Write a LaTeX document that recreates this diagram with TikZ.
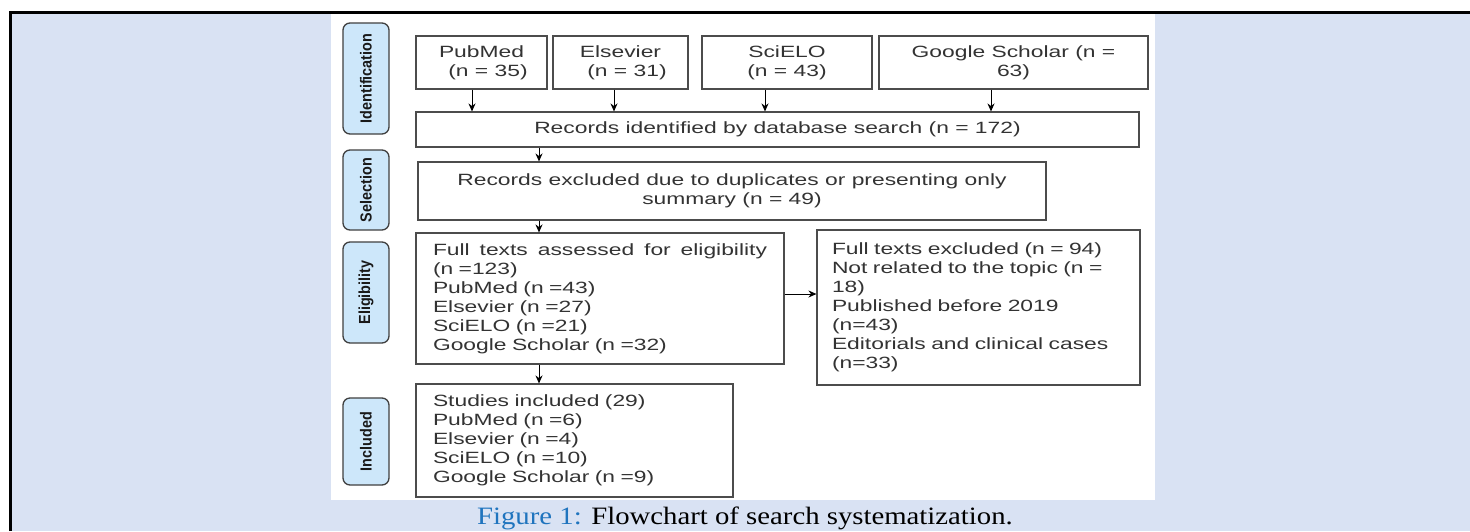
\documentclass[tikz,border=0pt]{standalone}
\usepackage{fontspec}
\setmainfont{Liberation Sans}[FakeStretch=1.4]
\newfontfamily\sidefont{Liberation Sans}[FakeStretch=0.9]
\newfontfamily\capfont{Liberation Serif}[FakeStretch=1.15]
\usetikzlibrary{arrows.meta}

\definecolor{pagebg}{HTML}{D9E2F3}
\definecolor{tabfill}{HTML}{CDE7FA}
\definecolor{capblue}{HTML}{1F74BE}

\newcommand{\boxfont}{\fontsize{16.3}{19}\selectfont\color{black!80}}
\newcommand{\tabfont}{\sidefont\bfseries\fontsize{16}{18}\selectfont\color{black!90}}

\tikzset{
  box/.style={draw=black!70, line width=1.1pt, fill=white, inner ysep=0pt,
    font=\boxfont, align=center},
  listbox/.style={box, align=left},
  tab/.style={draw=black!75, line width=1.3pt, fill=tabfill, rounded corners=7pt,
    rotate=90, minimum height=46pt, inner sep=0pt, font=\tabfont},
}

\begin{document}
\begin{tikzpicture}[x=1pt, y=-1pt, >={Stealth[length=8pt,width=7pt]}]
\useasboundingbox (0,0) rectangle (1470,531);
% page
\fill[pagebg] (11.5,13.5) rectangle (1470,531);
\fill[white] (331,14) rectangle (1155,500);
\draw[line width=3pt] (10,531) -- (10,12) -- (1470,12);

% phase tabs
\node (ident) at (366,78.5) [tab, minimum width=111pt] {Identification};
\node (sel) at (366,190) [tab, minimum width=80pt] {Selection};
\node (elig) at (366,292.5) [tab, minimum width=101pt] {Eligibility};
\node (incl) at (366,441.5) [tab, minimum width=87pt] {Included};

% sources
\node (pubmed) at (481.5,62.5) [box, minimum width=131pt, minimum height=53pt] {PubMed\\\hspace*{13pt}(n = 35)};
\node (elsevier) at (620.5,62.5) [box, minimum width=135pt, minimum height=53pt] {Elsevier\\\hspace*{13pt}(n = 31)};
\node (scielo) at (787,62.5) [box, minimum width=170pt, minimum height=53pt] {SciELO\\(n = 43)};
\node (google) at (1013.5,62.5) [box, minimum width=269pt, minimum height=53pt] {Google Scholar (n =\\63)};

% flow
\node (records) at (777.5,129.5) [box, minimum width=723pt, minimum height=35pt] {Records identified by database search (n = 172)};
\node (dupes) at (732,191) [box, minimum width=628pt, minimum height=58pt] {Records excluded due to duplicates or presenting only\\summary (n = 49)};
\node (assessed) at (600,298.5) [listbox, inner xsep=17pt, text width=334pt, minimum height=131pt]
  {\makebox[334pt][l]{Full\hfill texts\hfill assessed\hfill for\hfill eligibility}\\(n =123)\\PubMed (n =43)\\Elsevier (n =27)\\SciELO (n =21)\\Google Scholar (n =32)};
\node (ftexcl) at (978.5,307.5) [listbox, inner xsep=15pt, text width=293pt, minimum height=155pt]
  {Full texts excluded (n = 94)\\Not related to the topic (n =\\18)\\Published before 2019\\(n=43)\\Editorials and clinical cases\\(n=33)};
\node (studies) at (574.5,440.5) [listbox, inner xsep=17pt, text width=283pt, minimum height=113pt]
  {Studies included (29)\\PubMed (n =6)\\Elsevier (n =4)\\SciELO (n =10)\\Google Scholar (n =9)};

\coordinate (spine) at (539,150);

\draw[->, line width=1pt] ([xshift=-9.5pt]pubmed.south) -- ([xshift=-9.5pt]pubmed.south |- records.north);
\draw[->, line width=1pt] ([xshift=-6.5pt]elsevier.south) -- ([xshift=-6.5pt]elsevier.south |- records.north);
\draw[->, line width=1pt] ([xshift=-22pt]scielo.south) -- ([xshift=-22pt]scielo.south |- records.north);
\draw[->, line width=1pt] ([xshift=-22.5pt]google.south) -- ([xshift=-22.5pt]google.south |- records.north);
\draw[->, line width=1pt] (records.south -| spine) -- (dupes.north -| spine);
\draw[->, line width=1pt] (dupes.south -| spine) -- (assessed.north -| spine);
\draw[->, line width=1pt] (assessed.south -| spine) -- (studies.north -| spine);
\draw[->, line width=1pt] ([yshift=4.5pt]assessed.east) -- ([yshift=4.5pt]assessed.east -| ftexcl.west);

% caption
\node (caption) at (745,524) [anchor=base, inner sep=0pt, font=\capfont\fontsize{25}{27}\selectfont]
  {{\color{capblue}Figure 1:} Flowchart of search systematization.};
\end{tikzpicture}
\end{document}
